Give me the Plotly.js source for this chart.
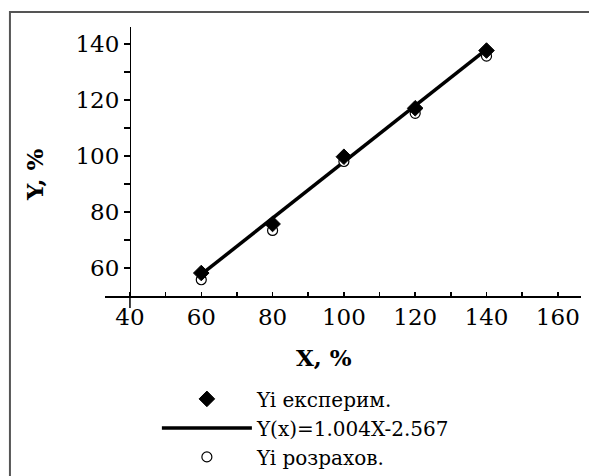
<!DOCTYPE html>
<html>
<head>
<meta charset="utf-8">
<script src="https://cdn.plot.ly/plotly-3.0.1.min.js"></script>
<style>
  html, body { margin: 0; padding: 0; background: #fff; }
  #chart { width: 589px; height: 476px; }
</style>
</head>
<body>
<div id="chart"></div>
<script>
// ---- data ----
const xValues = [60, 80, 100, 120, 140];
const yExperimental = [58.2, 75.7, 99.7, 117.0, 137.6];
const yCalculated = [55.8, 73.4, 98.0, 115.2, 135.6];
const yFitLine = [57.7, 77.7, 97.8, 117.9, 138.0];

const seriesNames = ["Yi експерим.", "Y(x)=1.004X-2.567", "Yi розрахов."];
const xTitle = "X, %";
const yTitle = "Y, %";

const xTickVals = [40, 50, 60, 70, 80, 90, 100, 110, 120, 130, 140, 150, 160];
const xTickText = ["40", "", "60", "", "80", "", "100", "", "120", "", "140", "", "160"];
const yTickVals = [60, 70, 80, 90, 100, 110, 120, 130, 140];
const yTickText = ["60", "", "80", "", "100", "", "120", "", "140"];

const xRange = [33, 166.5];
const yRange = [50, 146];

// ---- chart ----
const FONT = "DejaVu Serif, Liberation Serif, serif";
const yAxisPos = (40 - xRange[0]) / (xRange[1] - xRange[0]);

const traces = [
  {
    x: xValues, y: yFitLine, name: seriesNames[1], type: "scatter", mode: "lines",
    line: { color: "#000", width: 3.5 }, legendrank: 2
  },
  {
    x: xValues, y: yCalculated, name: seriesNames[2], type: "scatter", mode: "markers",
    marker: { symbol: "circle", size: 10, color: "#fff", line: { color: "#000", width: 1.2 } },
    legendrank: 3
  },
  {
    x: xValues, y: yExperimental, name: seriesNames[0], type: "scatter", mode: "markers",
    marker: { symbol: "diamond", size: 12, color: "#000", line: { color: "#000", width: 1 } },
    legendrank: 1
  }
];

const tickFont = { family: FONT, size: 23, color: "#000" };

const layout = {
  width: 589, height: 476,
  margin: { l: 105, r: 8.3, t: 27, b: 180, pad: 0, autoexpand: false },
  paper_bgcolor: "#fff", plot_bgcolor: "#fff",
  showlegend: true,
  xaxis: {
    range: xRange, showline: true, linecolor: "#000", linewidth: 1.5,
    ticks: "inside", ticklen: 4, tickwidth: 1.5, tickcolor: "#000",
    tickmode: "array", tickvals: xTickVals, ticktext: xTickText,
    showgrid: false, zeroline: false, tickfont: tickFont, anchor: "y", automargin: false
  },
  yaxis: {
    range: yRange, showline: true, linecolor: "#000", linewidth: 1.5,
    ticks: "outside", ticklen: 6, tickwidth: 1.5, tickcolor: "#000",
    tickmode: "array", tickvals: yTickVals, ticktext: yTickText,
    showgrid: false, zeroline: false, tickfont: tickFont,
    anchor: "free", position: yAxisPos, automargin: false
  },
  xaxis2: {
    range: xRange, overlaying: "x", anchor: "y", showline: false,
    ticks: "outside", ticklen: 4, tickwidth: 1.5, tickcolor: "#000",
    tickmode: "array", tickvals: xTickVals, showticklabels: false,
    showgrid: false, zeroline: false
  },
  yaxis2: {
    range: yRange, overlaying: "y", anchor: "free", position: yAxisPos, showline: false,
    ticks: "inside", ticklen: 3, tickwidth: 1.5, tickcolor: "#000",
    tickmode: "array", tickvals: yTickVals, showticklabels: false,
    showgrid: false, zeroline: false
  },
  legend: {
    x: 0.109, xanchor: "left", y: -0.31, yanchor: "top",
    font: { family: FONT, size: 20, color: "#000" },
    itemwidth: 90, bgcolor: "rgba(0,0,0,0)", borderwidth: 0,
    traceorder: "normal"
  },
  annotations: [
    { text: yTitle, xref: "paper", yref: "paper", x: -0.147, y: 0.45, showarrow: false,
      xanchor: "center", yanchor: "middle",
      textangle: -90, font: { family: FONT, size: 23, color: "#000", weight: "bold" } },
    { text: xTitle, xref: "paper", yref: "paper", x: 0.4604, y: -0.2268, showarrow: false,
      xanchor: "center", yanchor: "middle",
      font: { family: FONT, size: 23, color: "#000", weight: "bold" } }
  ],
  shapes: [
    { type: "line", xref: "paper", yref: "paper", x0: yAxisPos, x1: yAxisPos, y0: 0, y1: -0.045,
      line: { color: "#000", width: 1.5 } },
    { type: "rect", xref: "paper", yref: "paper", x0: -0.1997, x1: 1.1, y0: -0.7, y1: 1.0558,
      line: { color: "#555", width: 2 }, fillcolor: "rgba(0,0,0,0)" }
  ]
};

Plotly.newPlot("chart", traces, layout, { displayModeBar: false, staticPlot: true });
</script>
</body>
</html>
